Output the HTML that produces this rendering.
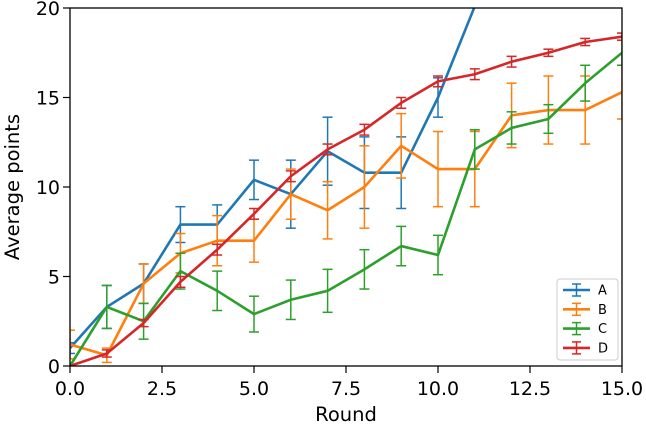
<!DOCTYPE html>
<html><head><meta charset="utf-8"><style>
body{margin:0;background:#fff;}
svg text{font-family:"DejaVu Sans","Liberation Sans",sans-serif;}
</style></head><body>
<svg id="chart" width="646" height="425"></svg>
<script>
const rounds=[0,1,2,3,4,5,6,7,8,9,10,11,12,13,14,15];
const seriesNames=["A","B","C","D"];
const colors=["#1f77b4","#ff7f0e","#2ca02c","#d62728"];
const valsA=[1.0,3.3,4.6,7.9,7.9,10.4,9.6,12.0,10.8,10.8,15.0,20.1,26,28,30,32];
const errA=[0.3,1.2,1.1,1.0,1.1,1.1,1.9,1.9,2.0,2.0,1.1,0,1,1,1,1];
const valsB=[1.2,0.6,4.6,6.3,7.0,7.0,9.6,8.7,10.0,12.3,11.0,11.0,14.0,14.3,14.3,15.3];
const errB=[0.8,0.4,1.1,1.1,1.4,1.2,1.4,1.6,2.3,1.8,2.1,2.1,1.8,1.9,1.9,1.5];
const valsC=[0,3.3,2.5,5.3,4.2,2.9,3.7,4.2,5.4,6.7,6.2,12.1,13.3,13.8,15.8,17.5];
const errC=[0,1.2,1.0,1.0,1.1,1.0,1.1,1.2,1.1,1.1,1.1,1.1,0.9,0.8,1.0,0.7];
const valsD=[0,0.7,2.4,4.7,6.5,8.5,10.6,12.1,13.2,14.7,15.9,16.3,17.0,17.5,18.1,18.4];
const errD=[0,0.2,0.2,0.3,0.3,0.3,0.3,0.3,0.3,0.3,0.3,0.3,0.3,0.2,0.2,0.2];
const xTicks=[0,2.5,5,7.5,10,12.5,15];
const xTickLabels=["0.0","2.5","5.0","7.5","10.0","12.5","15.0"];
const yTicks=[0,5,10,15,20];
const yTickLabels=["0","5","10","15","20"];

const L=70,R=622,T=8,B=366;
const xs=v=>L+(v-0)/15*(R-L);
const ys=v=>B-(v-0)/20*(B-T);
const NS="http://www.w3.org/2000/svg";
const svg=document.getElementById('chart');
function mk(tag,attrs,parent){const e=document.createElementNS(NS,tag);for(const k in attrs)e.setAttribute(k,attrs[k]);(parent||svg).appendChild(e);return e;}

const defs=mk('defs',{});
const cp=mk('clipPath',{id:'clip'},defs);
mk('rect',{x:L,y:T,width:R-L,height:B-T},cp);

const plot=mk('g',{'clip-path':'url(#clip)'});


const all=[[valsA,errA],[valsB,errB],[valsC,errC],[valsD,errD]];
all.forEach(([vals,errs],si)=>{
  const g=mk('g',{},plot);
  
  
  const c=colors[si];
  rounds.forEach((r,i)=>{
    const x=xs(r),y1=ys(vals[i]-errs[i]),y2=ys(vals[i]+errs[i]);
    const eb=mk('g',{stroke:c,'stroke-width':1.5},g);
    
    
    mk('line',{x1:x,x2:x,y1:y1,y2:y2},eb);
    mk('line',{x1:x-5,x2:x+5,y1:y1,y2:y1},eb);
    mk('line',{x1:x-5,x2:x+5,y1:y2,y2:y2},eb);
  });
  const pl=mk('polyline',{fill:'none',stroke:c,'stroke-width':2.6,'stroke-linejoin':'round',points:rounds.map((r,i)=>xs(r)+','+ys(vals[i])).join(' ')},g);
  
  
});

const frame=mk('rect',{x:L,y:T,width:R-L,height:B-T,fill:'none',stroke:'#000','stroke-width':1.3});



xTicks.forEach((v,i)=>{
  const x=xs(v);
  mk('line',{x1:x,x2:x,y1:B,y2:B+7,stroke:'#000','stroke-width':1.2});
  const t=mk('text',{x:x,y:B+29,'text-anchor':'middle','font-size':19});
  t.textContent=xTickLabels[i];
  
  
});
yTicks.forEach((v,i)=>{
  const y=ys(v);
  mk('line',{x1:L-7,x2:L,y1:y,y2:y,stroke:'#000','stroke-width':1.2});
  const t=mk('text',{x:L-10,y:y+7,'text-anchor':'end','font-size':19});
  t.textContent=yTickLabels[i];
  
  
});
const xt=mk('text',{x:(L+R)/2,y:421,'text-anchor':'middle','font-size':19.5});
xt.textContent='Round';


const yt=mk('text',{x:0,y:0,'text-anchor':'middle','font-size':19.5,transform:'translate(19,'+((T+B)/2)+') rotate(-90)'});
yt.textContent='Average points';



const lg=mk('g',{});


mk('rect',{x:557,y:279,width:618-557,height:81,rx:3,fill:'#fff',stroke:'#ccc','stroke-width':1},lg);
seriesNames.forEach((n,i)=>{
  const y=290+i*19.3;
  const e=mk('g',{},lg);
  
  
  mk('line',{x1:563,x2:590,y1:y,y2:y,stroke:colors[i],'stroke-width':2.6},e);
  mk('line',{x1:576.5,x2:576.5,y1:y-6,y2:y+6,stroke:colors[i],'stroke-width':1.5},e);
  mk('line',{x1:572,x2:581,y1:y-6,y2:y-6,stroke:colors[i],'stroke-width':1.5},e);
  mk('line',{x1:572,x2:581,y1:y+6,y2:y+6,stroke:colors[i],'stroke-width':1.5},e);
  const t=mk('text',{x:598,y:y+4.5,'font-size':13},e);
  t.textContent=n;
});
</script>
</body></html>
